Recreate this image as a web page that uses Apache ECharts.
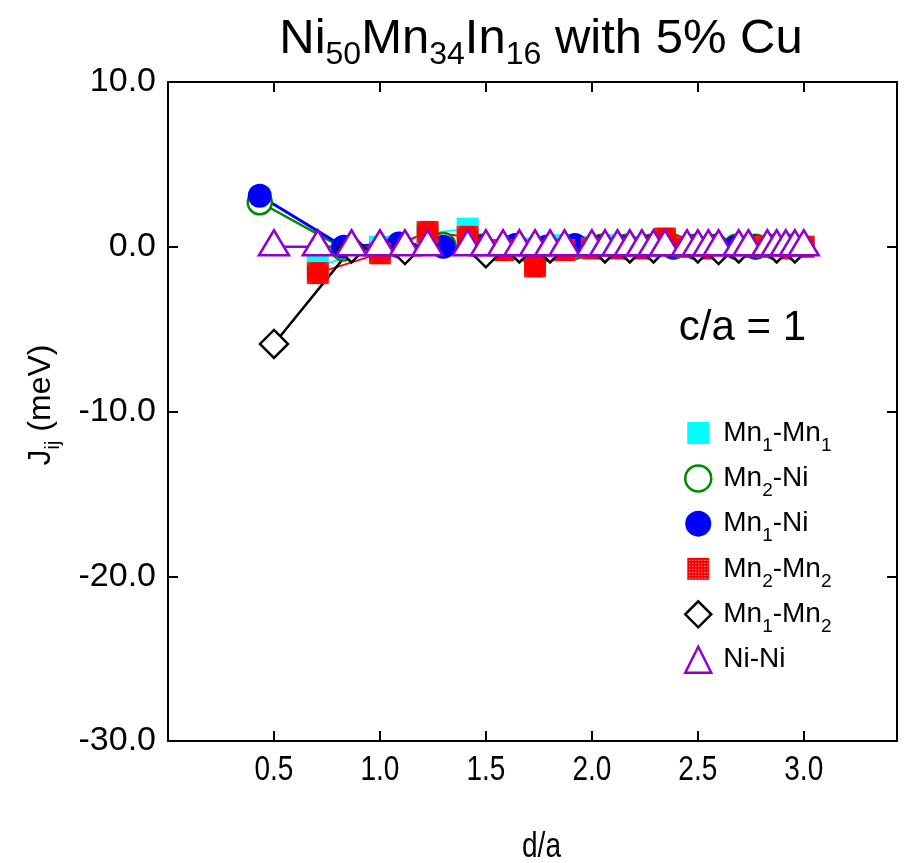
<!DOCTYPE html>
<html>
<head>
<meta charset="utf-8">
<script src="https://cdn.jsdelivr.net/npm/echarts@6/dist/echarts.min.js"></script>
<style>
  html, body { margin: 0; padding: 0; background: #ffffff; }
  #chart { width: 911px; height: 863px; }
</style>
</head>
<body>
<div id="chart"></div>
<script>
// Exchange couplings J_ij (meV) versus neighbour distance d/a, c/a = 1.

// Shell distances of the fcc Mn sublattices (Mn1-Mn1, Mn2-Mn2)
const dMnMn = [0.707, 1.000, 1.225, 1.414, 1.581, 1.732, 1.871, 2.000, 2.121, 2.236, 2.345, 2.449, 2.550, 2.739, 2.828, 2.915, 3.000];
const jMn1Mn1 = [-1.2, 0.0, 0.8, 1.1, -0.2, -0.1, 0.1, 0.0, 0.1, 0.0, 0.1, 0.0, 0.0, 0.0, 0.0, 0.0, 0.0];
const jMn2Mn2 = [-1.6, -0.4, 0.9, 0.6, -0.2, -1.2, -0.2, -0.1, -0.1, -0.1, 0.5, 0.0, -0.1, 0.0, 0.0, -0.1, 0.0];

// Mn-Ni shells
const dMnNi = [0.433, 0.829, 1.090, 1.299, 1.479, 1.639, 1.785, 1.920, 2.046, 2.165, 2.278, 2.385, 2.487, 2.586, 2.681, 2.773, 2.861, 2.947];
const jMn2Ni = [2.7, -0.1, 0.1, 0.1, 0.0, 0.0, -0.1, 0.0, 0.0, 0.0, 0.0, 0.0, 0.0, 0.0, 0.0, 0.0, 0.0, 0.0];
const jMn1Ni = [3.1, 0.0, 0.2, 0.0, 0.0, 0.1, 0.0, 0.1, 0.0, 0.0, 0.0, 0.0, 0.0, 0.0, 0.0, 0.0, 0.0, 0.0];

// Mn1-Mn2 shells
const dMn1Mn2 = [0.500, 0.866, 1.118, 1.500, 1.658, 1.803, 2.062, 2.179, 2.291, 2.500, 2.598, 2.693, 2.872, 2.958];
const jMn1Mn2 = [-5.9, -0.1, -0.2, -0.4, -0.1, -0.1, -0.1, -0.1, -0.1, -0.1, -0.2, -0.1, -0.1, -0.1];

// Ni-Ni shells
const dNiNi = [0.500, 0.707, 0.866, 1.000, 1.118, 1.225, 1.414, 1.500, 1.581, 1.658, 1.732, 1.803, 1.871, 2.000, 2.062, 2.121, 2.179, 2.236, 2.291, 2.345, 2.449, 2.500, 2.550, 2.598, 2.693, 2.739, 2.828, 2.872, 2.915, 2.958, 3.000];
const jNiNi = [0.0, 0.0, 0.0, 0.0, 0.0, 0.0, 0.0, 0.0, 0.0, 0.0, 0.0, 0.0, 0.0, 0.0, 0.0, 0.0, 0.0, 0.0, 0.0, 0.0, 0.0, 0.0, 0.0, 0.0, 0.0, 0.0, 0.0, 0.0, 0.0, 0.0, 0.0];

const seriesNames = ['Mn1-Mn1', 'Mn2-Ni', 'Mn1-Ni', 'Mn2-Mn2', 'Mn1-Mn2', 'Ni-Ni'];

// Labelled positions along d/a
const xTickValues = [0.5, 1.0, 1.5, 2.0, 2.5, 3.0];

const X_MIN = 0, X_MAX = 3.44, Y_MIN = -30, Y_MAX = 10;

const SANS = '"Liberation Sans", Arial, Helvetica, sans-serif';
const NARROW_SCALE = 0.8;   // horizontally condensed lettering on the d/a axis

// Dotted red fill for the Mn2-Mn2 squares
const dotTile = document.createElement('canvas');
dotTile.width = 3; dotTile.height = 3;
(function () {
  const c = dotTile.getContext('2d');
  c.fillStyle = '#ff0000';
  c.fillRect(0, 0, 3, 3);
  c.fillStyle = '#ffcccc';
  c.fillRect(1, 1, 1, 1);
})();
const redPattern = { image: dotTile, repeat: 'repeat' };

function pairs(xs, ys) { return xs.map((x, i) => [x, ys[i]]); }

// "Mn1-Ni" -> rich text with subscripted digits
function subscripted(name) {
  return name.replace(/([^0-9]+)|([0-9]+)/g, (m, txt, num) => txt ? '{m|' + txt + '}' : '{s|' + num + '}');
}

const styles = {
  'Mn1-Mn1': { symbol: 'rect', size: 22, item: { color: '#00ffff', borderWidth: 0 }, line: '#00ffff', lw: 2 },
  'Mn2-Ni':  { symbol: 'circle', size: 24, item: { color: '#ffffff', borderColor: '#008a00', borderWidth: 2.5 }, line: '#008a00', lw: 2.5 },
  'Mn1-Ni':  { symbol: 'circle', size: 24, item: { color: '#0000ff', borderWidth: 0 }, line: '#0000ff', lw: 3 },
  'Mn2-Mn2': { symbol: 'rect', size: 22, item: { color: redPattern, borderWidth: 0 }, line: '#ff0000', lw: 2 },
  'Mn1-Mn2': { symbol: 'diamond', size: 28, item: { color: '#ffffff', borderColor: '#000000', borderWidth: 2.5 }, line: '#000000', lw: 2.5 },
  'Ni-Ni':   { symbol: 'triangle', size: [30, 25], offset: [0, -4], item: { color: '#ffffff', borderColor: '#9000d0', borderWidth: 2.5 }, line: '#9000d0', lw: 2.5 }
};

const seriesData = {
  'Mn1-Mn1': pairs(dMnMn, jMn1Mn1),
  'Mn2-Ni': pairs(dMnNi, jMn2Ni),
  'Mn1-Ni': pairs(dMnNi, jMn1Ni),
  'Mn2-Mn2': pairs(dMnMn, jMn2Mn2),
  'Mn1-Mn2': pairs(dMn1Mn2, jMn1Mn2),
  'Ni-Ni': pairs(dNiNi, jNiNi)
};

const legendIcons = {
  'Mn1-Mn1': 'path://M0,0M2,2h22v22h-22zM26,26',
  'Mn2-Ni': 'circle',
  'Mn1-Ni': 'circle',
  'Mn2-Mn2': 'path://M0,0M2,2h22v22h-22zM26,26',
  'Mn1-Mn2': 'diamond',
  'Ni-Ni': 'triangle'
};

const frameLine = { show: true, onZero: false, lineStyle: { color: '#000', width: 2 } };
const inTicks = { show: true, inside: true, length: 10, lineStyle: { color: '#000', width: 2 } };

const chart = echarts.init(document.getElementById('chart'), null, { renderer: 'canvas' });

const baseGraphics = [
  {
    type: 'text', x: 541, y: 43,
    style: {
      text: '{m|Ni}{s|50}{m|Mn}{s|34}{m|In}{s|16}{m| with 5% Cu}',
      align: 'center', verticalAlign: 'middle', fill: '#000',
      rich: {
        m: { fontSize: 49, lineHeight: 56, verticalAlign: 'top', fontFamily: SANS, fill: '#000' },
        s: { fontSize: 32, lineHeight: 22, verticalAlign: 'bottom', fontFamily: SANS, fill: '#000' }
      }
    }
  },
  {
    type: 'text', x: 806, y: 328,
    style: { text: 'c/a = 1', font: '42px ' + SANS, align: 'right', verticalAlign: 'middle', fill: '#000' }
  },
  {
    type: 'text', x: 44, y: 405, rotation: Math.PI / 2,
    style: {
      text: '{m|J}{s|ij}{m| (meV)}',
      align: 'center', verticalAlign: 'middle', fill: '#000',
      rich: {
        m: { fontSize: 32, lineHeight: 38, verticalAlign: 'top', fontFamily: SANS, fill: '#000' },
        s: { fontSize: 20, lineHeight: 16, verticalAlign: 'bottom', fontFamily: SANS, fill: '#000' }
      }
    }
  }
];

chart.setOption({
  animation: false,
  backgroundColor: '#ffffff',
  grid: { left: 168, top: 82, right: 14, bottom: 122, containLabel: false },
  xAxis: [
    {
      type: 'value', min: X_MIN, max: X_MAX, interval: 0.5, position: 'bottom',
      axisLine: frameLine, axisTick: inTicks, splitLine: { show: false }, axisLabel: { show: false }
    },
    {
      type: 'value', min: X_MIN, max: X_MAX, interval: 0.5, position: 'top',
      axisLine: frameLine, axisTick: inTicks, splitLine: { show: false }, axisLabel: { show: false }
    }
  ],
  yAxis: [
    {
      type: 'value', min: Y_MIN, max: Y_MAX, interval: 10, position: 'left',
      axisLine: frameLine, axisTick: inTicks, splitLine: { show: false },
      axisLabel: { color: '#000', fontSize: 34, fontFamily: SANS, margin: 12, formatter: v => v.toFixed(1) }
    },
    {
      type: 'value', min: Y_MIN, max: Y_MAX, interval: 10, position: 'right',
      axisLine: frameLine, axisTick: inTicks, splitLine: { show: false }, axisLabel: { show: false }
    }
  ],
  legend: {
    orient: 'vertical', left: 684, top: 419, padding: 0, itemGap: 9.2,
    itemWidth: 26, itemHeight: 26,
    selectedMode: false,
    data: seriesNames.map(n => ({ name: n, icon: legendIcons[n], itemStyle: styles[n].item })),
    formatter: n => subscripted(n),
    textStyle: {
      color: '#000', fontFamily: SANS, padding: [8, 0, 0, 7],
      rich: {
        m: { fontSize: 28, lineHeight: 36, verticalAlign: 'top', fontFamily: SANS, color: '#000' },
        s: { fontSize: 19, lineHeight: 16, verticalAlign: 'bottom', fontFamily: SANS, color: '#000' }
      }
    }
  },
  series: seriesNames.map(n => ({
    name: n,
    type: 'line',
    xAxisIndex: 0, yAxisIndex: 0,
    data: seriesData[n],
    symbol: styles[n].symbol,
    symbolSize: styles[n].size,
    symbolOffset: styles[n].offset || [0, 0],
    showAllSymbol: true,
    clip: false,
    itemStyle: styles[n].item,
    lineStyle: { color: styles[n].line, width: styles[n].lw },
    emphasis: { disabled: true }
  })),
  graphic: baseGraphics
});

// Condensed tick labels and title for the d/a axis, placed through the axis scale
const axisGraphics = xTickValues.map(v => {
  const p = chart.convertToPixel({ gridIndex: 0 }, [v, Y_MIN]);
  return {
    type: 'text', x: p[0], y: p[1] + 12, scaleX: NARROW_SCALE,
    style: { text: v.toFixed(1), font: '35px ' + SANS, align: 'center', verticalAlign: 'top', fill: '#000' }
  };
});
const mid = chart.convertToPixel({ gridIndex: 0 }, [(X_MIN + X_MAX) / 2, Y_MIN]);
axisGraphics.push({
  type: 'text', x: mid[0] + 9, y: mid[1] + 106, scaleX: NARROW_SCALE,
  style: { text: 'd/a', font: '35px ' + SANS, align: 'center', verticalAlign: 'middle', fill: '#000' }
});

chart.setOption({ graphic: baseGraphics.concat(axisGraphics) }, { replaceMerge: ['graphic'] });
</script>
</body>
</html>
